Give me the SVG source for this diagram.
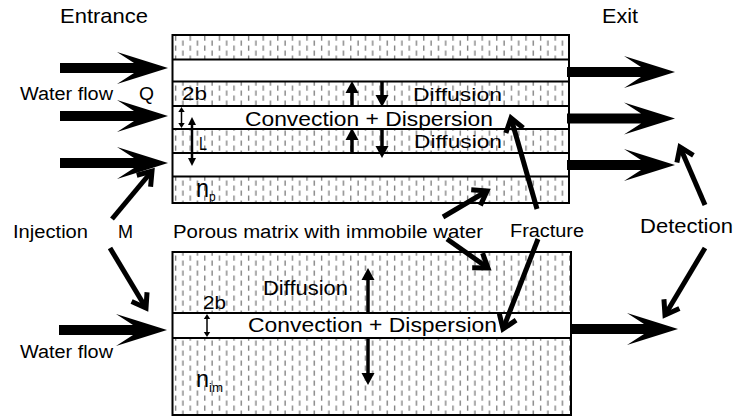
<svg xmlns="http://www.w3.org/2000/svg" xmlns:xlink="http://www.w3.org/1999/xlink" width="734" height="417" viewBox="0 0 734 417">
<style>
  text { font-family: "Liberation Sans", Arial, sans-serif; fill: #000; }
  .frame { fill: none; stroke: #000; stroke-width: 2; }
  .sep { stroke: #000; stroke-width: 2; }
  .frac { fill: #fff; }
  .thin { stroke: #000; stroke-width: 5; fill: none; marker-end: url(#chev); }
  .diff { stroke: #000; stroke-width: 3.5; marker-end: url(#tri); }
</style>
<defs>
  <pattern id="hatch" patternUnits="userSpaceOnUse" x="172" y="35" width="14.6" height="10">
    <rect width="14.6" height="10" fill="#fff"/>
    <line x1="3.6" y1="0.5" x2="3.6" y2="5.8" stroke="#7a7a7a" stroke-width="1.3"/>
    <line x1="10.9" y1="5.5" x2="10.9" y2="10" stroke="#7a7a7a" stroke-width="1.3"/>
    <line x1="10.9" y1="0" x2="10.9" y2="0.8" stroke="#7a7a7a" stroke-width="1.3"/>
  </pattern>
  <path id="big" d="M-108,-5 L-34,-5 L-51,-16 L0,0 L-51,16 L-34,5 L-108,5 Z" fill="#000"/>
  <marker id="chev" markerUnits="userSpaceOnUse" orient="auto" refX="0" refY="0" markerWidth="40" markerHeight="40" viewBox="-25 -20 40 40" overflow="visible">
    <path d="M-13,-9 L0,0 L-13,9" fill="none" stroke="#000" stroke-width="5" stroke-linejoin="miter" stroke-miterlimit="10"/>
  </marker>
  <marker id="tri" markerUnits="userSpaceOnUse" orient="auto" refX="0" refY="0" markerWidth="30" markerHeight="30" viewBox="-15 -15 30 30" overflow="visible">
    <path d="M-6,-6.5 L6,0 L-6,6.5 Z" fill="#000"/>
  </marker>
  <marker id="sm" markerUnits="userSpaceOnUse" orient="auto-start-reverse" refX="0" refY="0" markerWidth="20" markerHeight="20" viewBox="-10 -10 20 20" overflow="visible">
    <path d="M-2.5,-3.2 L2.5,0 L-2.5,3.2 Z" fill="#000"/>
  </marker>
  <marker id="md" markerUnits="userSpaceOnUse" orient="auto-start-reverse" refX="0" refY="0" markerWidth="20" markerHeight="20" viewBox="-10 -10 20 20" overflow="visible">
    <path d="M-4,-4 L4,0 L-4,4 Z" fill="#000"/>
  </marker>
</defs>

<g id="top-block">
  <rect x="172.5" y="35" width="396.5" height="168" fill="url(#hatch)"/>
  <rect class="frac" x="172.5" y="59.5" width="396.5" height="22"/>
  <rect class="frac" x="172.5" y="106" width="396.5" height="23"/>
  <rect class="frac" x="172.5" y="153" width="396.5" height="23.5"/>
  <line class="sep" x1="172.5" y1="59.5" x2="569" y2="59.5"/>
  <line class="sep" x1="172.5" y1="81.5" x2="569" y2="81.5"/>
  <line class="sep" x1="172.5" y1="106" x2="569" y2="106"/>
  <line class="sep" x1="172.5" y1="129" x2="569" y2="129"/>
  <line class="sep" x1="172.5" y1="153" x2="569" y2="153"/>
  <line class="sep" x1="172.5" y1="176.5" x2="569" y2="176.5"/>
  <rect class="frame" x="172.5" y="35" width="396.5" height="168"/>
</g>

<g id="bottom-block">
  <rect x="172.5" y="252" width="398.5" height="163" fill="url(#hatch)"/>
  <rect class="frac" x="172.5" y="313" width="398.5" height="25"/>
  <line class="sep" x1="172.5" y1="313" x2="571" y2="313"/>
  <line class="sep" x1="172.5" y1="338" x2="571" y2="338"/>
  <rect class="frame" x="172.5" y="252" width="398.5" height="163"/>
</g>

<g id="connectors">
  <use xlink:href="#big" href="#big" transform="translate(168,68)"/>
  <use xlink:href="#big" href="#big" transform="translate(168,116)"/>
  <use xlink:href="#big" href="#big" transform="translate(168,163)"/>
  <use xlink:href="#big" href="#big" transform="translate(675,72)"/>
  <use xlink:href="#big" href="#big" transform="translate(675,118.5)"/>
  <use xlink:href="#big" href="#big" transform="translate(675,165)"/>
  <use xlink:href="#big" href="#big" transform="translate(167,330)"/>
  <use xlink:href="#big" href="#big" transform="translate(678,329)"/>
  <line class="thin" x1="112" y1="219" x2="152" y2="171"/>
  <line class="thin" x1="110" y1="248" x2="146" y2="308"/>
  <line class="thin" x1="443" y1="217" x2="487" y2="191"/>
  <line class="thin" x1="447" y1="239" x2="488" y2="268"/>
  <line class="thin" x1="537" y1="209" x2="511" y2="118"/>
  <line class="thin" x1="538" y1="239" x2="503" y2="329"/>
  <line class="thin" x1="705" y1="205" x2="680" y2="147"/>
  <line class="thin" x1="705" y1="248" x2="665" y2="315"/>
  <line class="diff" x1="352" y1="106" x2="352" y2="87"/>
  <line class="diff" x1="382" y1="82" x2="382" y2="101"/>
  <line class="diff" x1="352" y1="153" x2="352" y2="134"/>
  <line class="diff" x1="382" y1="129" x2="382" y2="152"/>
  <line class="diff" x1="368" y1="313" x2="368" y2="274"/>
  <line class="diff" x1="368" y1="338" x2="368" y2="379"/>
  <line x1="181.5" y1="109.5" x2="181.5" y2="125.5" stroke="#000" stroke-width="1.5" marker-start="url(#sm)" marker-end="url(#sm)"/>
  <line x1="192" y1="121" x2="192" y2="162" stroke="#000" stroke-width="2.5" marker-start="url(#md)" marker-end="url(#md)"/>
  <line x1="207" y1="316.5" x2="207" y2="334.5" stroke="#000" stroke-width="1.5" marker-start="url(#sm)" marker-end="url(#sm)"/>
</g>

<g id="labels">
  <text x="60" y="23" font-size="21" textLength="88" lengthAdjust="spacingAndGlyphs">Entrance</text>
  <text x="602" y="23" font-size="21" textLength="36" lengthAdjust="spacingAndGlyphs">Exit</text>
  <text x="20" y="100" font-size="18" textLength="93" lengthAdjust="spacingAndGlyphs">Water flow</text>
  <text x="139" y="100" font-size="18" textLength="15" lengthAdjust="spacingAndGlyphs">Q</text>
  <text x="182" y="100" font-size="18" textLength="25" lengthAdjust="spacingAndGlyphs">2b</text>
  <text x="413" y="101" font-size="19" textLength="89" lengthAdjust="spacingAndGlyphs">Diffusion</text>
  <text x="245" y="126" font-size="20" textLength="248" lengthAdjust="spacingAndGlyphs">Convection + Dispersion</text>
  <text x="199" y="150" font-size="18" textLength="8" lengthAdjust="spacingAndGlyphs">L</text>
  <text x="414" y="148" font-size="19" textLength="88" lengthAdjust="spacingAndGlyphs">Diffusion</text>
  <text x="196" y="197" font-size="25" textLength="13" lengthAdjust="spacingAndGlyphs">n</text>
  <text x="209" y="201" font-size="12">p</text>
  <text x="13" y="238" font-size="18" textLength="75" lengthAdjust="spacingAndGlyphs">Injection</text>
  <text x="118" y="238" font-size="18" textLength="15" lengthAdjust="spacingAndGlyphs">M</text>
  <text x="173" y="238" font-size="18" textLength="310" lengthAdjust="spacingAndGlyphs">Porous matrix with immobile water</text>
  <text x="510" y="237" font-size="18" textLength="74" lengthAdjust="spacingAndGlyphs">Fracture</text>
  <text x="640" y="233" font-size="20" textLength="93" lengthAdjust="spacingAndGlyphs">Detection</text>
  <text x="263" y="295" font-size="20" textLength="85" lengthAdjust="spacingAndGlyphs">Diffusion</text>
  <text x="203" y="309" font-size="18" textLength="23" lengthAdjust="spacingAndGlyphs">2b</text>
  <text x="248" y="332" font-size="20" textLength="249" lengthAdjust="spacingAndGlyphs">Convection + Dispersion</text>
  <text x="20" y="358" font-size="18" textLength="93" lengthAdjust="spacingAndGlyphs">Water flow</text>
  <text x="196" y="387" font-size="24" textLength="13" lengthAdjust="spacingAndGlyphs">n</text>
  <text x="209" y="392" font-size="13" textLength="14" lengthAdjust="spacingAndGlyphs">im</text>
</g>
</svg>
